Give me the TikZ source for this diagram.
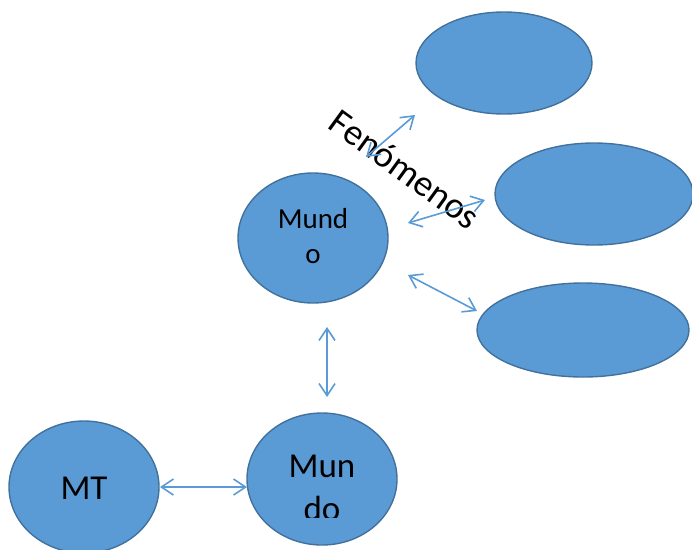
\documentclass[tikz,border=0pt]{standalone}
\usepackage{fontspec}
\setmainfont{Carlito}
\usetikzlibrary{shapes.geometric,arrows.meta}
\definecolor{fillblue}{HTML}{5B9BD5}
\definecolor{edgeblue}{HTML}{41719C}
\tikzset{
  blob/.style={ellipse, fill=fillblue, draw=edgeblue, line width=1.4pt, inner sep=0pt},
  link/.style={draw=fillblue, line width=1.6pt, {Straight Barb[length=12pt,width=16pt]}-{Straight Barb[length=12pt,width=16pt]}},
  lbl/.style={inner sep=0pt, text=black}
}
\begin{document}
\begin{tikzpicture}[x=1pt,y=-1pt]
\useasboundingbox (0,0) rectangle (692,549);
\node[blob, minimum width=176pt, minimum height=102pt] (e1) at (504,63) {};
\node[blob, minimum width=198pt, minimum height=102pt] (e2) at (594,194) {};
\node[blob, minimum width=212pt, minimum height=94pt] (e3) at (583,330) {};
\node[blob, minimum width=150pt, minimum height=130pt] (m1) at (313,238) {};
\node[blob, minimum width=150pt, minimum height=132pt] (m2) at (322,479) {};
\node[blob, minimum width=150pt, minimum height=132pt] (mt) at (84,487) {};
\node[lbl, anchor=base, font=\fontsize{29}{35}\selectfont] (t1) at (313,228) {Mund};
\node[lbl, anchor=base, font=\fontsize{29}{35}\selectfont] (t2) at (313,263) {o};
\node[lbl, anchor=base, font=\fontsize{35}{42}\selectfont] (t3) at (84,499) {MT};
\begin{scope}
\clip (247,400) rectangle (397,517);
\node[lbl, anchor=base, font=\fontsize{35}{42}\selectfont] (t4) at (322,477) {Mun};
\node[lbl, anchor=base, font=\fontsize{35}{42}\selectfont] (t5) at (322,520) {do};
\end{scope}
\node[lbl, rotate=-36, font=\fontsize{37}{44}\selectfont] (fen) at (405,169) {Fenómenos};
\coordinate (a1s) at (366,157); \coordinate (a1e) at (415,115);
\coordinate (a2s) at (408,223); \coordinate (a2e) at (485,200);
\coordinate (a3s) at (408,275); \coordinate (a3e) at (477,311);
\coordinate (a4s) at (327,327); \coordinate (a4e) at (327,397);
\coordinate (a5s) at (160,487); \coordinate (a5e) at (247,487);
\draw[link] (a1s) -- (a1e);
\draw[link] (a2s) -- (a2e);
\draw[link] (a3s) -- (a3e);
\draw[link] (a4s) -- (a4e);
\draw[link] (a5s) -- (a5e);
\end{tikzpicture}
\end{document}
